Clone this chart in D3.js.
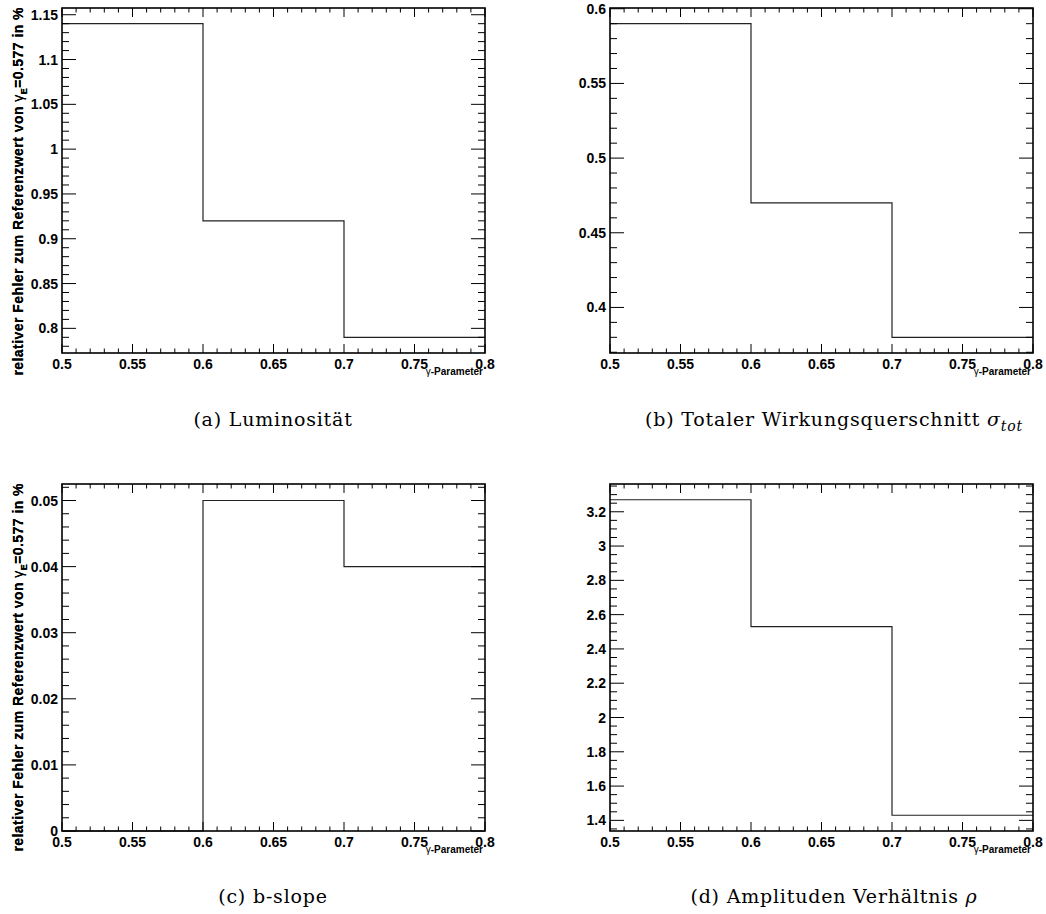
<!DOCTYPE html>
<html>
<head>
<meta charset="utf-8">
<script src="https://cdnjs.cloudflare.com/ajax/libs/d3/7.8.5/d3.min.js"></script>
<style>
  body { margin: 0; background: #fff; }
  svg { display: block; }
</style>
</head>
<body>
<svg id="plot"></svg>
<script>
// bin edges of the gamma parameter (shared by all four histograms)
const binEdges = [0.5, 0.6, 0.7, 0.8];

// bin contents, relative error in %
const luminositaet = [1.14, 0.92, 0.79];
const sigmaTot = [0.59, 0.47, 0.38];
const bSlope = [0, 0.05, 0.04];
const rhoVerh = [3.27, 2.53, 1.43];

// axis ticks
const xMajorTicks = [0.5, 0.55, 0.6, 0.65, 0.7, 0.75, 0.8];
const xMinorStep = 0.01;
const yMajorA = [0.8, 0.85, 0.9, 0.95, 1, 1.05, 1.1, 1.15];
const yMajorB = [0.4, 0.45, 0.5, 0.55, 0.6];
const yMajorC = [0, 0.01, 0.02, 0.03, 0.04, 0.05];
const yMajorD = [1.4, 1.6, 1.8, 2, 2.2, 2.4, 2.6, 2.8, 3, 3.2];
const yMinorSteps = [0.01, 0.01, 0.002, 0.05];

const captions = ["(a) Luminosität", "(b) Totaler Wirkungsquerschnitt ", "(c) b-slope", "(d) Amplituden Verhältnis "];

let width = 1046;
let height = 914;

let svg = d3.select('#plot')
    .attr('width', width)
    .attr('height', height)
    .style('background', '#FFFFFF');

const panels = [
    { values: luminositaet, yMajor: yMajorA, left: 62, top: 8, bottom: 353, capY: 426, capX: 273 },
    { values: sigmaTot, yMajor: yMajorB, left: 610, top: 8, bottom: 353, capY: 426, capX: 834 },
    { values: bSlope, yMajor: yMajorC, left: 62, top: 484, bottom: 831, capY: 903, capX: 273 },
    { values: rhoVerh, yMajor: yMajorD, left: 610, top: 484, bottom: 831, capY: 903, capX: 834 }
];
const frameW = 423;
const fmt = d => String(+d.toFixed(4));

// same rule as ROOT: 5% margin, clipped at 0 for non-negative data
function yRange(vals) {
    let lo = d3.min(vals), hi = d3.max(vals);
    let m = 0.05 * (hi - lo);
    let ylo = lo - m;
    if (lo >= 0 && ylo < 0) ylo = 0;
    return [ylo, hi + m];
}

function stepsIn(dom, step) {
    let out = [];
    let start = Math.ceil(dom[0] / step - 1e-6);
    for (let k = start; k * step <= dom[1] + 1e-9; k++) out.push(k * step);
    return out;
}

panels.forEach(function (p, i) {
    let g = svg.append('g');
    let right = p.left + frameW;

    let xScale = d3.scaleLinear()
        .domain([binEdges[0], binEdges[binEdges.length - 1]])
        .range([p.left, right]);
    let yScale = d3.scaleLinear()
        .domain(yRange(p.values))
        .range([p.bottom, p.top]);

    // histogram step line
    let pts = [];
    p.values.forEach(function (v, j) {
        pts.push([xScale(binEdges[j]), yScale(v)]);
        pts.push([xScale(binEdges[j + 1]), yScale(v)]);
    });
    g.append('path')
        .attr('d', d3.line()(pts))
        .attr('fill', 'none')
        .attr('stroke', '#222')
        .attr('stroke-width', 1.2);

    // x ticks (bottom and top)
    let xMinor = stepsIn(xScale.domain(), xMinorStep);
    xMinor.forEach(function (t) {
        let major = xMajorTicks.some(m => Math.abs(m - t) < 1e-6);
        let len = major ? 9 : 4.5;
        g.append('line').attr('x1', xScale(t)).attr('x2', xScale(t))
            .attr('y1', p.bottom).attr('y2', p.bottom - len)
            .attr('stroke', '#000').attr('stroke-width', 1);
        g.append('line').attr('x1', xScale(t)).attr('x2', xScale(t))
            .attr('y1', p.top).attr('y2', p.top + len)
            .attr('stroke', '#000').attr('stroke-width', 1);
    });
    g.selectAll('.xl').data(xMajorTicks).enter().append('text')
        .attr('x', d => xScale(d))
        .attr('y', p.bottom + 16)
        .attr('text-anchor', 'middle')
        .style('font-family', '"Liberation Sans", Arial, sans-serif')
        .style('font-weight', 'bold')
        .style('font-size', '14px')
        .text(fmt);

    // y ticks (left and right)
    let yMinor = stepsIn(yScale.domain(), yMinorSteps[i]);
    yMinor.forEach(function (t) {
        let major = p.yMajor.some(m => Math.abs(m - t) < 1e-6);
        let len = major ? 14 : 7;
        g.append('line').attr('x1', p.left).attr('x2', p.left + len)
            .attr('y1', yScale(t)).attr('y2', yScale(t))
            .attr('stroke', '#000').attr('stroke-width', 1);
        g.append('line').attr('x1', right).attr('x2', right - len)
            .attr('y1', yScale(t)).attr('y2', yScale(t))
            .attr('stroke', '#000').attr('stroke-width', 1);
    });
    g.selectAll('.yl').data(p.yMajor).enter().append('text')
        .attr('x', p.left - 4)
        .attr('y', d => yScale(d))
        .attr('dy', '0.36em')
        .attr('text-anchor', 'end')
        .style('font-family', '"Liberation Sans", Arial, sans-serif')
        .style('font-weight', 'bold')
        .style('font-size', '14px')
        .text(fmt);

    // frame
    g.append('rect')
        .attr('x', p.left).attr('y', p.top)
        .attr('width', frameW).attr('height', p.bottom - p.top)
        .attr('fill', 'none')
        .attr('stroke', '#000')
        .attr('stroke-width', 1.6);

    // axis titles
    let yt = g.append('text')
        .attr('transform', `translate(23, ${p.top - 1}) rotate(-90)`)
        .attr('text-anchor', 'end')
        .style('font-family', '"Liberation Sans", Arial, sans-serif')
        .style('font-weight', 'bold')
        .style('font-size', '14px')
        .style('letter-spacing', '0.45px');
    yt.append('tspan').text('relativer Fehler zum Referenzwert von ');
    yt.append('tspan').style('font-weight', 'normal').text('γ');
    yt.append('tspan').attr('dy', 4).style('font-size', '9px').text('E');
    yt.append('tspan').attr('dy', -4).text('=0.577 in %');

    let xt = g.append('text')
        .attr('x', right - 2)
        .attr('y', p.bottom + 22)
        .attr('text-anchor', 'end')
        .style('font-family', '"Liberation Sans", Arial, sans-serif')
        .style('font-weight', 'bold')
        .style('font-size', '10px');
    xt.append('tspan').style('font-weight', 'normal').text('γ');
    xt.append('tspan').text('-Parameter');

    // caption below the subfigure
    let cap = svg.append('text')
        .attr('x', p.capX)
        .attr('y', p.capY)
        .attr('text-anchor', 'middle')
        .style('font-family', '"DejaVu Serif", "Liberation Serif", serif')
        .style('font-size', '19px')
        .style('letter-spacing', '0.8px')
        .text(captions[i]);
    if (i === 1) {
        cap.append('tspan').style('font-style', 'italic').text('σ');
        cap.append('tspan').attr('dy', 5).style('font-style', 'italic').style('font-size', '14px').text('tot');
    }
    if (i === 3) {
        cap.append('tspan').style('font-style', 'italic').text('ρ');
    }
});
</script>
</body>
</html>
